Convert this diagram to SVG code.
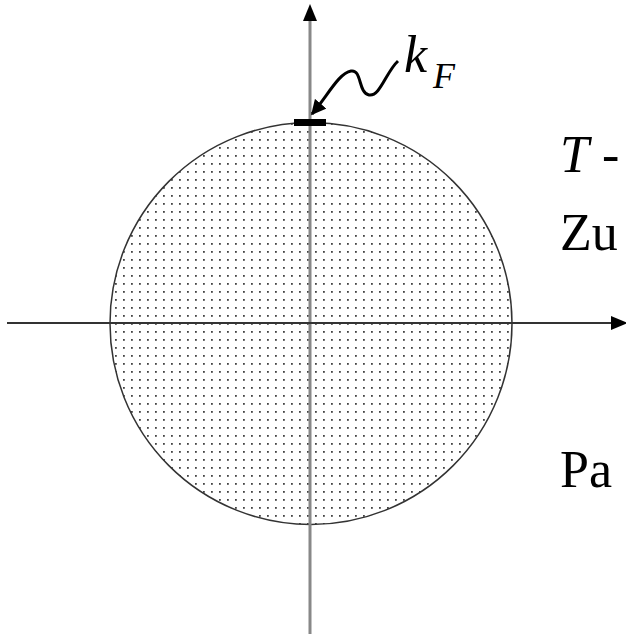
<svg xmlns="http://www.w3.org/2000/svg" width="626" height="635" viewBox="0 0 626 635">
<style>
.lbl{font-family:'Liberation Serif','Times New Roman',serif;font-size:52px;fill:#000}
.it{font-style:italic}
.sub{font-size:36px}
</style>
<defs>
<pattern id="dots" x="0" y="0" width="8" height="8" patternUnits="userSpaceOnUse">
<rect x="3" y="3" width="1.8" height="1.8" fill="#444"/>
</pattern>
<marker id="ah" viewBox="0 0 10 10" refX="9" refY="5" markerWidth="5" markerHeight="5" orient="auto" markerUnits="strokeWidth">
<path d="M0,0 L10,5 L0,10 Z" fill="#000"/>
</marker>
</defs>
<g id="disk">
<circle cx="311" cy="323.5" r="201" fill="#fff"/>
<circle cx="311" cy="323.5" r="201" fill="url(#dots)" stroke="#333" stroke-width="1.5"/>
</g>
<g id="connectors">
<line x1="310" y1="634" x2="310" y2="20" stroke="#888" stroke-width="3"/>
<path d="M303,21 L310,4 L317,21 Z" fill="#000"/>
<line x1="7" y1="323" x2="612" y2="323" stroke="#333" stroke-width="2.2"/>
<path d="M611,316 L628,323 L611,330 Z" fill="#000"/>
<path d="M398,61 C386,72 380,97 369,95 C358,93 362,69 351,71 C339,73 328,95 312,114" fill="none" stroke="#000" stroke-width="3" marker-end="url(#ah)"/>
</g>
<g id="fermi-bar">
<rect x="294" y="119" width="32" height="7" fill="#000"/>
</g>
<g id="labels">
<text class="lbl it" x="404" y="72">k</text>
<text class="lbl it sub" x="433" y="88">F</text>
<text class="lbl" x="560" y="172"><tspan class="it">T</tspan> -</text>
<text class="lbl" x="560" y="250">Zu</text>
<text class="lbl" x="560" y="487">Pa</text>
</g>
</svg>
